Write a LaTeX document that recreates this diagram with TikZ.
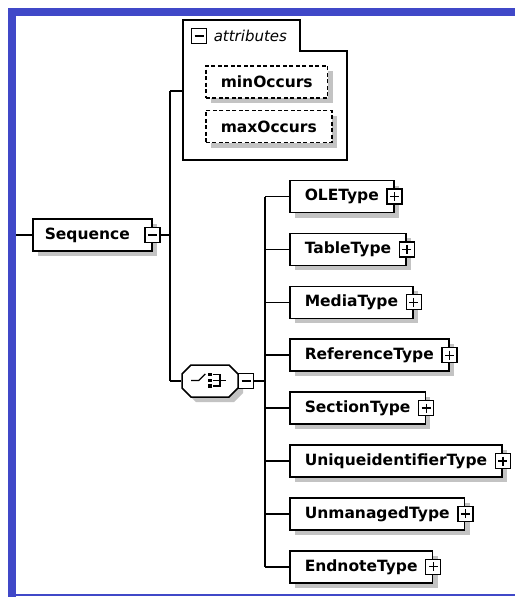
\documentclass[tikz,border=0pt]{standalone}
\usepackage{fontspec}
\setmainfont{DejaVu Sans}
\usetikzlibrary{shadows}
\definecolor{bordercol}{RGB}{64,72,200}
\definecolor{shadowgray}{RGB}{195,195,195}
\newcommand\elfont{\fontsize{15.5}{18}\selectfont\bfseries}
\newcommand\attrfont{\fontsize{15}{18}\selectfont\itshape}
\begin{document}
\begin{tikzpicture}[x=1pt,y=-1pt, line width=1.5pt,
  shad/.style={drop shadow={shadow xshift=5pt, shadow yshift=-5pt, fill=shadowgray, opacity=1}},
  elbox/.style={draw=black, fill=white, minimum height=32pt, inner xsep=15pt, inner ysep=0pt, anchor=west, font=\elfont, shad},
  attbox/.style={elbox, dash pattern=on 4pt off 2.5pt},
  pmbase/.style={draw=black, fill=white, minimum size=15pt, inner sep=0pt, line width=1.3pt},
  minusbox/.style={pmbase, path picture={\draw[line width=1.3pt] ([xshift=3pt]path picture bounding box.west) -- ([xshift=-3pt]path picture bounding box.east);}},
  plusbox/.style={pmbase, path picture={\draw[line width=1.3pt] ([xshift=3pt]path picture bounding box.west) -- ([xshift=-3pt]path picture bounding box.east); \draw[line width=1.3pt] ([yshift=-3pt]path picture bounding box.north) -- ([yshift=3pt]path picture bounding box.south);}}
]
\useasboundingbox (0,0) rectangle (515,597);
% frame
\fill[bordercol] (8,8) rectangle (515,16);
\fill[bordercol] (8,8) rectangle (16,597);
\fill[bordercol] (16,594.3) rectangle (515,596.3);

% connector trunks
\coordinate (lin) at (16,235);
\coordinate (v1top) at (170,91);
\coordinate (v1bot) at (170,381);
\coordinate (attrin) at (183,91);
\coordinate (v2top) at (265,196.5);
\coordinate (v2bot) at (265,566.8);

% Sequence
\node[elbox, text width=95pt, align=left, inner xsep=12pt] (seq) at (32,235) {Sequence};
\node[minusbox] (seqm) at (seq.east) {};
\draw (lin) -- (seq.west);
\draw (seqm.east) -- (seqm.east -| v1top);
\draw (v1top) -- (v1bot);
\draw (v1top) -- (attrin);

% attributes group
\draw[fill=white] (183,20) -- (300,20) -- (300,51) -- (347,51) -- (347,160) -- (183,160) -- cycle;
\node[minusbox] (attrm) at (199,36) {};
\node[anchor=west, font=\attrfont, inner sep=0pt] (attrt) at (213,36) {attributes};
\node[attbox] (minocc) at (205,82) {minOccurs};
\node[attbox] (maxocc) at (205,126.5) {maxOccurs};

% compositor (octagon)
\def\octagonpath{(182,374) -- (191,365) -- (229,365) -- (238,374) -- (238,388) -- (229,397) -- (191,397) -- (182,388) -- cycle}
\fill[shadowgray, shift={(5,5)}] \octagonpath;
\draw[fill=white] \octagonpath;
\node[inner sep=0pt, minimum width=56pt, minimum height=32pt] (grp) at (210,381) {};
\draw[line width=1.3pt] (191,380.5) -- (198.7,380.5) -- (205.3,374);
\fill (208.3,372.8) rectangle (211.7,376.2);
\fill (208.3,378.6) rectangle (211.7,382);
\fill (208.3,384.2) rectangle (211.7,387.6);
\draw[line width=1.3pt] (212.5,374.5) -- (220,374.5) -- (220,385.9) -- (212.5,385.9);
\draw[line width=1.3pt] (212.5,380.3) -- (225.5,380.3);
\node[minusbox] (grpm) at (246,381) {};
\draw (v1bot) -- (grp.west);
\draw (grpm.east) -- (grpm.east -| v2top);
\draw (v2top) -- (v2bot);

% children
\newcommand\childel[3]{%
  \node[elbox] (#1) at (289,#2) {#3};
  \node[plusbox] (#1p) at (#1.east) {};
  \draw (#1.west -| v2top) -- (#1.west);
}
\childel{ole}{196.5}{OLEType}
\childel{table}{249.4}{TableType}
\childel{media}{302.3}{MediaType}
\childel{ref}{355.2}{ReferenceType}
\childel{sect}{408.1}{SectionType}
\childel{uid}{461.0}{UniqueidentifierType}
\childel{unm}{513.9}{UnmanagedType}
\childel{end}{566.8}{EndnoteType}
\end{tikzpicture}
\end{document}
